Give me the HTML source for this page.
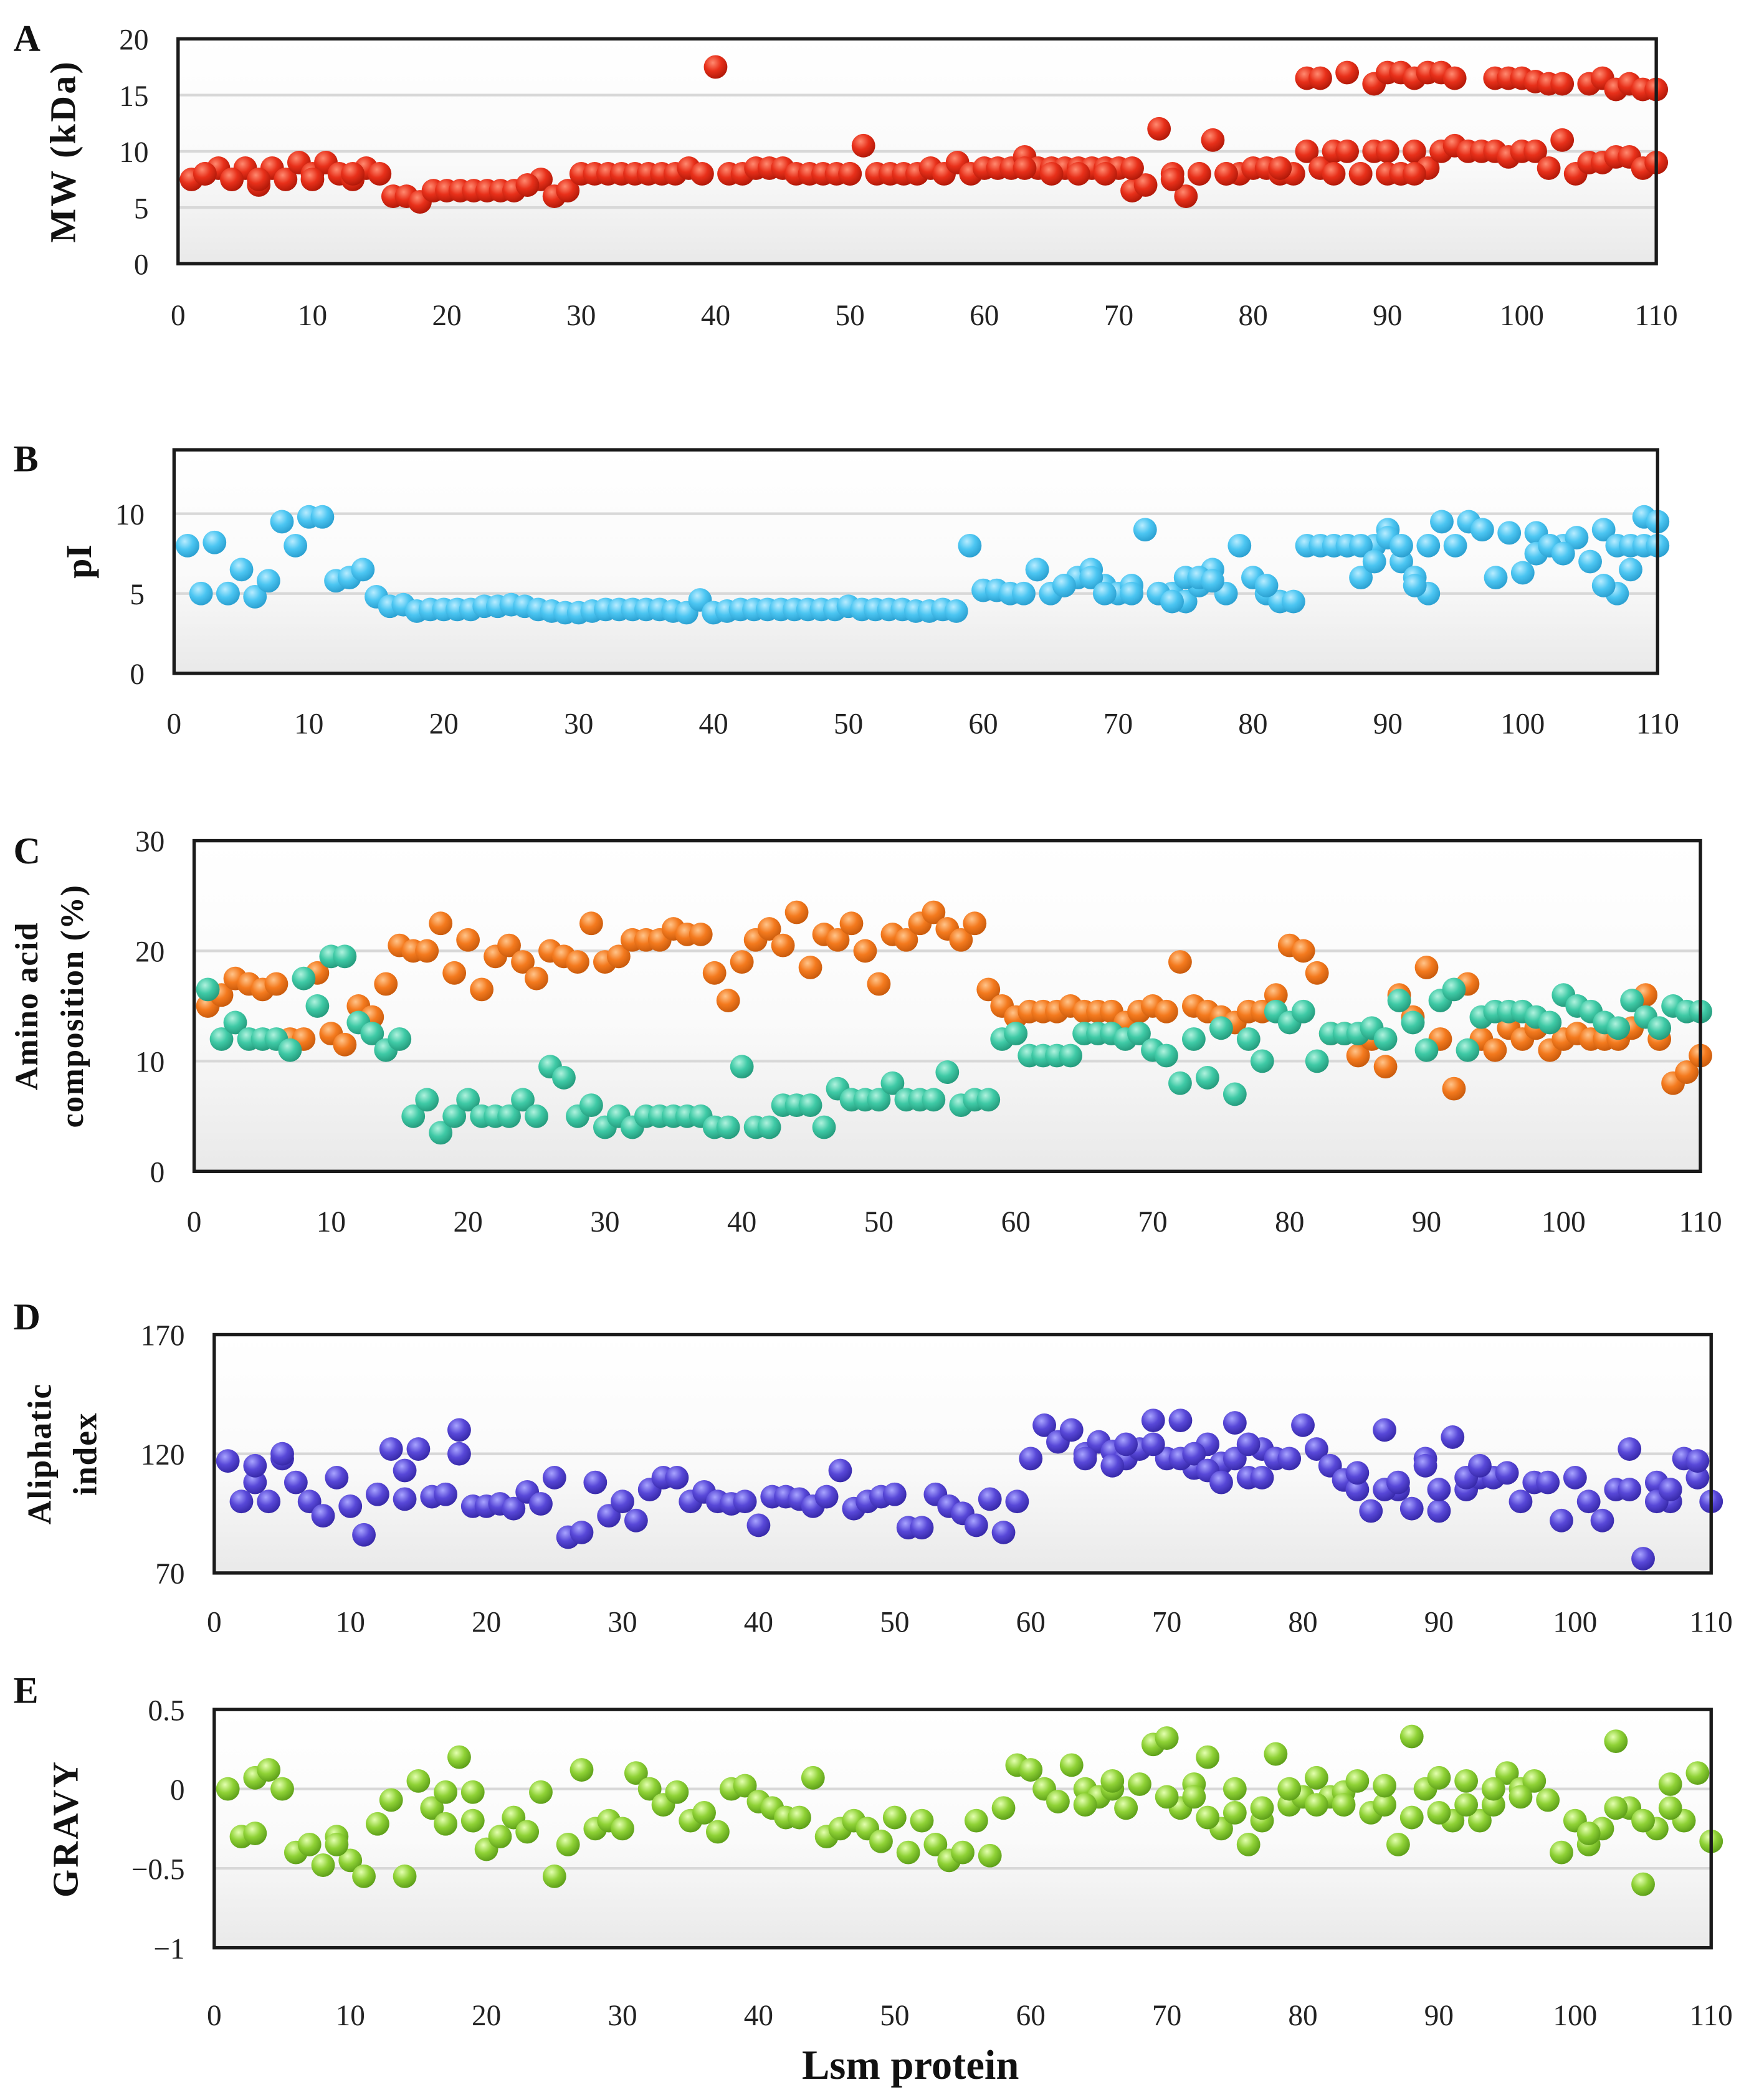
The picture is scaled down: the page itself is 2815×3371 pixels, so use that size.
<!DOCTYPE html>
<html><head><meta charset="utf-8"><style>
html,body{margin:0;padding:0;background:#fff;}
svg{display:block;}
text{font-family:"Liberation Serif",serif;}
</style></head>
<body>
<svg id="fig" width="2815" height="3371" viewBox="0 0 1310 1568.7" xmlns="http://www.w3.org/2000/svg">
<defs>
<linearGradient id="bg" x1="0" y1="0" x2="0" y2="1"><stop offset="0" stop-color="#ffffff"/><stop offset="0.55" stop-color="#fafafa"/><stop offset="1" stop-color="#e9e9e9"/></linearGradient>
<radialGradient id="gRed" cx="0.38" cy="0.32" r="0.7"><stop offset="0" stop-color="#ff8a70"/><stop offset="0.5" stop-color="#e8301a"/><stop offset="1" stop-color="#b01808"/></radialGradient>
<radialGradient id="gBlue" cx="0.38" cy="0.32" r="0.7"><stop offset="0" stop-color="#b8ecff"/><stop offset="0.5" stop-color="#4cc6f2"/><stop offset="1" stop-color="#2a9fd0"/></radialGradient>
<radialGradient id="gOrange" cx="0.38" cy="0.32" r="0.7"><stop offset="0" stop-color="#ffc48a"/><stop offset="0.5" stop-color="#f47a1e"/><stop offset="1" stop-color="#c85a0c"/></radialGradient>
<radialGradient id="gTeal" cx="0.38" cy="0.32" r="0.7"><stop offset="0" stop-color="#b0f2de"/><stop offset="0.5" stop-color="#3fcaa6"/><stop offset="1" stop-color="#249a7c"/></radialGradient>
<radialGradient id="gPurple" cx="0.38" cy="0.32" r="0.7"><stop offset="0" stop-color="#a8a4ff"/><stop offset="0.5" stop-color="#5848d8"/><stop offset="1" stop-color="#3628a8"/></radialGradient>
<radialGradient id="gGreen" cx="0.38" cy="0.32" r="0.7"><stop offset="0" stop-color="#e4ffb0"/><stop offset="0.5" stop-color="#8fd236"/><stop offset="1" stop-color="#5c9e18"/></radialGradient>
</defs>
</svg>
<script>
// ---- Data ----
var mwMain = [7.5,8,8.5,7.5,8.5,7,8.5,7.5,9,8,9,8,7.5,8.5,8,6,6,5.5,6.5,6.5,6.5,6.5,6.5,6.5,6.5,7,7.5,6,6.5,8,8,8,8,8,8,8,8,8.5,8,17.5,8,8,8.5,8.5,8.5,8,8,8,8,8,10.5,8,8,8,8,8.5,8,9,8,8.5,8.5,8.5,9.5,8.5,8.5,8.5,8.5,8.5,8.5,8.5,6.5,7,12,8,6,8,11,8,8,8.5,8.5,8,8,10,8.5,10,10,8,10,10,8,10,8.5,10,10.5,10,10,10,9.5,10,10,8.5,11,8,9,9,9.5,9.5,8.5,9];
var mwUpperX = [84,85,87,89,90,91,92,93,94,95,98,99,100,101,102,103,105,106,107,108,109,110];
var mwUpper = [16.5,16.5,17,16,17,17,16.5,17,17,16.5,16.5,16.5,16.5,16.2,16,16,16,16.5,15.5,16,15.5,15.5];
var mwExtraX = [2,4,6,10,13,26,50,63,65,67,69,71,74,76,78,82,86,88,90,91,92];
var mwExtra = [8,7.5,7.5,7.5,8,7,8,8.5,8,8,8,8.5,7.5,8,8,8.5,8,8,8,8,8];
var mwTicksY = [0,5,10,15,20];
var pI = [8,5,8.2,5,6.5,4.8,5.8,9.5,8,9.8,9.8,5.8,6,6.5,4.8,4.2,4.3,3.9,4,4,4,4,4.2,4.2,4.3,4.2,4,3.9,3.8,3.8,3.9,4,4,4,4,4,3.9,3.8,4.6,3.8,3.9,4,4,4,4,4,4,4,4,4.2,4,4,4,4,3.9,3.9,4,3.9,8,5.2,5.2,5,5,6.5,5,5.5,6,6.5,5.5,5,5.5,9,5,5,4.5,5.5,6.5,5,8,6,5,4.5,4.5,8,8,8,8,6,8,9,7,6,5,9.5,8,9.5,9,6,8.8,6.3,8.8,8,8,8.5,7,9,5,6.5,9.8,9.5];
var pIExtraX = [4,64,66,68,69,71,73,74,75,76,77,81,86,87,88,89,90,91,92,93,101,102,103,106,107,108,109,110];
var pIExtra = [5,6.5,5.5,6,5,5,5,4.5,6,6,5.8,5.5,8,8,8,7,8.5,8,5.5,8,7.5,8,7.5,5.5,8,8,8,8];
var pITicksY = [0,5,10];
var aaOrange = [15,16,17.5,17,16.5,17,12,12,18,12.5,11.5,15,14,17,20.5,20,20,22.5,18,21,16.5,19.5,20.5,19,17.5,20,19.5,19,22.5,19,19.5,21,21,21,22,21.5,21.5,18,15.5,19,21,22,20.5,23.5,18.5,21.5,21,22.5,20,17,21.5,21,22.5,23.5,22,21,22.5,16.5,15,14,14.5,14.5,14.5,15,14.5,14.5,14.5,13.5,14.5,15,14.5,19,15,14.5,14,13.5,14.5,14.5,16,20.5,20,18,12.5,12.5,10.5,12,9.5,16,14,18.5,12,7.5,17,12,11,13,12,13,11,12,12.5,12,12,12,13,16,12,8,9,10.5];
var aaTeal = [16.5,12,13.5,12,12,12,11,17.5,15,19.5,19.5,13.5,12.5,11,12,5,6.5,3.5,5,6.5,5,5,5,6.5,5,9.5,8.5,5,6,4,5,4,5,5,5,5,5,4,4,9.5,4,4,6,6,6,4,7.5,6.5,6.5,6.5,8,6.5,6.5,6.5,9,6,6.5,6.5,12,12.5,10.5,10.5,10.5,10.5,12.5,12.5,12.5,12,12.5,11,10.5,8,12,8.5,13,7,12,10,14.5,13.5,14.5,10,12.5,12.5,12.5,13,12,15.5,13.5,11,15.5,16.5,11,14,14.5,14.5,14.5,14,13.5,16,15,14.5,13.5,13,15.5,14,13,15,14.5,14.5];
var aaTicksY = [0,10,20,30];
var aliphatic = [117,100,108,100,118,108,100,94,110,98,86,103,122,101,122,102,103,130,98,98,99,97,104,99,110,85,87,108,94,100,92,105,110,110,100,104,100,99,100,90,102,102,101,98,102,113,97,100,102,103,89,89,103,98,95,90,101,87,100,118,132,125,130,120,125,121,118,122,134,118,134,114,124,116,133,110,122,118,118,132,122,115,109,105,96,130,105,97,118,96,127,105,110,110,112,100,108,108,92,110,100,92,105,122,76,108,100,118,110,100];
var aliExtraX = [3,5,14,18,64,66,67,69,71,72,73,74,75,76,77,84,86,87,89,90,92,93,104,106,107,109];
var aliExtra = [115,120,113,120,118,115,124,124,118,120,113,108,118,124,110,112,105,108,115,105,110,115,105,100,105,117];
var aliTicksY = [70,120,170];
var gravy = [0,-0.3,0.07,0.12,0,-0.4,-0.35,-0.48,-0.3,-0.45,-0.55,-0.22,-0.07,-0.55,0.05,-0.12,-0.22,0.2,-0.2,-0.38,-0.3,-0.18,-0.27,-0.02,-0.55,-0.35,0.12,-0.25,-0.2,-0.25,0.1,0,-0.1,-0.02,-0.2,-0.15,-0.27,0,0.02,-0.08,-0.12,-0.18,-0.18,0.07,-0.3,-0.25,-0.2,-0.25,-0.33,-0.18,-0.4,-0.2,-0.35,-0.45,-0.4,-0.2,-0.42,-0.12,0.15,0.12,0,-0.08,0.15,0,-0.05,0,-0.12,0.03,0.28,0.32,-0.12,0.03,0.2,-0.25,0,-0.35,-0.2,0.22,-0.1,-0.05,0.07,-0.05,-0.02,0.05,-0.15,-0.1,-0.35,0.33,0,0.07,-0.2,0.05,-0.2,-0.1,0.1,0,0.05,-0.07,-0.4,-0.2,-0.35,-0.25,0.3,-0.12,-0.6,-0.25,0.03,-0.2,0.1,-0.33];
var gravyExtraX = [3,9,17,19,64,66,67,70,72,73,75,77,79,81,83,86,88,90,92,94,96,101,103,105,107];
var gravyExtra = [-0.28,-0.35,-0.02,-0.02,-0.1,0.05,-0.12,-0.05,-0.05,-0.18,-0.15,-0.12,0,-0.1,-0.1,0.02,-0.18,-0.15,-0.1,0,-0.05,-0.28,-0.12,-0.2,-0.12];
var gravyTicksY = [-1,-0.5,0,0.5];
var gravyTickLabels = ["\u22121","\u22120.5","0","0.5"];
var xTicks = [0,10,20,30,40,50,60,70,80,90,100,110];

var NS = "http://www.w3.org/2000/svg";
var svg = document.getElementById('fig');
function mk(tag, attrs, parent){var e=document.createElementNS(NS,tag);for(var k in attrs)e.setAttribute(k,attrs[k]);(parent||svg).appendChild(e);return e;}

function panel(p){
  var g = mk('g',{});
  
  
  var xs = function(v){ return p.x0 + v / 110 * (p.x1 - p.x0); };
  var ys = function(v){ return p.y1 - (v - p.ymin) / (p.ymax - p.ymin) * (p.y1 - p.y0); };
  var bg = mk('rect',{x:p.x0,y:p.y0,width:p.x1-p.x0,height:p.y1-p.y0,fill:'url(#bg)'},g);
  
  
  p.ticksY.forEach(function(t,i){
    if(t!==p.ymin && t!==p.ymax){
      var gl = mk('line',{x1:p.x0,x2:p.x1,y1:ys(t),y2:ys(t),stroke:'#d8d8d8','stroke-width':2},g);
      
      
    }
    var tl = mk('text',{x:p.x0-22,y:ys(t)+8,'text-anchor':'end','font-size':22,fill:'#222'},g);
    tl.textContent = p.tickLabels ? p.tickLabels[i] : String(t);
    
    
  });
  xTicks.forEach(function(t){
    var tl = mk('text',{x:xs(t),y:p.y1+p.xlabOff,'text-anchor':'middle','font-size':22,fill:'#222'},g);
    tl.textContent = String(t);
    
    
  });
  p.series.forEach(function(s){
    s.vals.forEach(function(v,i){
      if(v===null||v===undefined) return;
      var xv = s.xs ? s.xs[i] : i+1;
      var c = mk('circle',{cx:xs(xv),cy:ys(v),r:8.8,fill:s.fill},g);
      
      
    });
  });
  var fr = mk('rect',{x:p.x0,y:p.y0,width:p.x1-p.x0,height:p.y1-p.y0,fill:'none',stroke:'#1a1a1a','stroke-width':2.5},g);
  
  
  var lt = mk('text',{x:10,y:p.letterY,'font-size':28,'font-weight':'bold',fill:'#111'},g);
  lt.textContent = p.letter;
  
  
  p.titles.forEach(function(t,i){
    var cy=(p.y0+p.y1)/2;
    var tx = mk('text',{x:p.titleX[i],y:cy,'text-anchor':'middle','font-size':p.titleSize||27,'font-weight':'bold',fill:'#111','letter-spacing':p.ls||0,transform:'rotate(-90 '+p.titleX[i]+' '+cy+')'},g);
    tx.textContent = t;
    
    
  });
}
</script>
<script>
try{
panel({name:'panel-a-mw',letter:'A',letterY:38,x0:133,x1:1237,y0:29,y1:197,xlabOff:46,ymin:0,ymax:20,ticksY:mwTicksY,titles:['MW (kDa)'],titleX:[56],ls:1.5,
  series:[{vals:mwMain,fill:'url(#gRed)',pname:'mw-point'},{vals:mwExtra,xs:mwExtraX,fill:'url(#gRed)',pname:'mw-point'},{vals:mwUpper,xs:mwUpperX,fill:'url(#gRed)',pname:'mw-point'}]});
}catch(e){}
</script>
<script>
try{
panel({name:'panel-b-pi',letter:'B',letterY:352,x0:130,x1:1238,y0:336,y1:503,xlabOff:45,ymin:0,ymax:14,ticksY:pITicksY,titles:['pI'],titleX:[68],
  series:[{vals:pI,fill:'url(#gBlue)',pname:'pi-point'},{vals:pIExtra,xs:pIExtraX,fill:'url(#gBlue)',pname:'pi-point'}]});
}catch(e){}
</script>
<script>
try{
panel({name:'panel-c-composition',letter:'C',letterY:645,x0:145,x1:1270,y0:628,y1:875,xlabOff:45,ymin:0,ymax:30,ticksY:aaTicksY,titles:['Amino acid','composition (%)'],titleX:[28,62],titleSize:24,ls:0.8,
  series:[{vals:aaOrange,fill:'url(#gOrange)',pname:'composition-orange-point'},{vals:aaTeal,fill:'url(#gTeal)',pname:'composition-teal-point'}]});
}catch(e){}
</script>
<script>
try{
panel({name:'panel-d-aliphatic',letter:'D',letterY:993,x0:160,x1:1278,y0:997,y1:1175,xlabOff:44,ymin:70,ymax:170,ticksY:aliTicksY,titles:['Aliphatic','index'],titleX:[38,72],titleSize:25,ls:0.8,
  series:[{vals:aliphatic,fill:'url(#gPurple)',pname:'aliphatic-point'},{vals:aliExtra,xs:aliExtraX,fill:'url(#gPurple)',pname:'aliphatic-point'}]});
}catch(e){}
</script>
<script>
try{
panel({name:'panel-e-gravy',letter:'E',letterY:1272,x0:160,x1:1278,y0:1277,y1:1455,xlabOff:58,ymin:-1,ymax:0.5,ticksY:gravyTicksY,tickLabels:gravyTickLabels,titles:['GRAVY'],titleX:[58],ls:1.5,
  series:[{vals:gravy,fill:'url(#gGreen)',pname:'gravy-point'},{vals:gravyExtra,xs:gravyExtraX,fill:'url(#gGreen)',pname:'gravy-point'}]});
}catch(e){}
</script>
<script>
var xt = mk('text',{x:680,y:1553,'text-anchor':'middle','font-size':31,'font-weight':'bold',fill:'#111'});
xt.textContent = 'Lsm protein';


</script>
</body></html>
